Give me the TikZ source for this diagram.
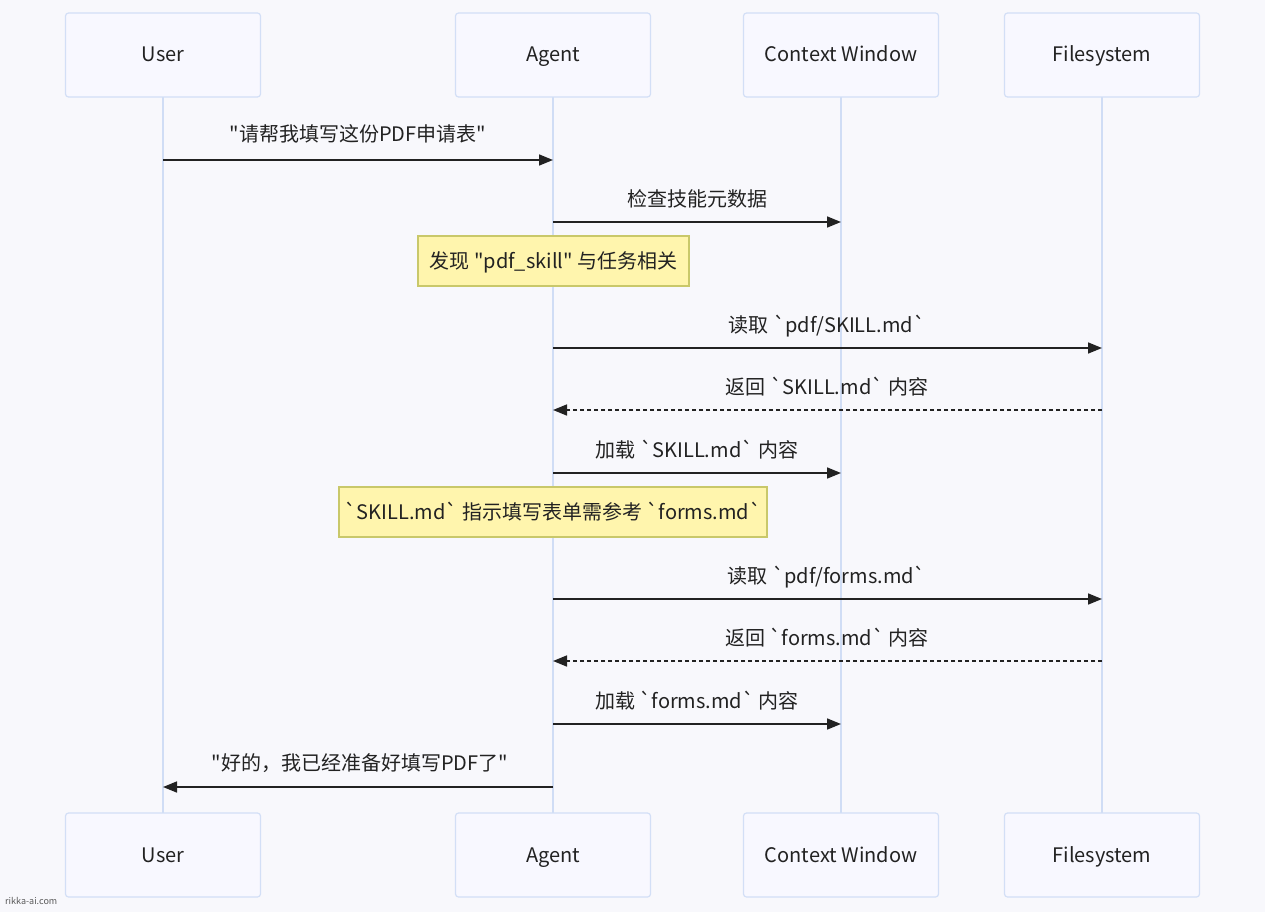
\documentclass[tikz,border=0pt]{standalone}
\usepackage{fontspec}
\setmainfont{Noto Sans CJK SC}[Ligatures=TeXOff]
\usetikzlibrary{arrows.meta}
\definecolor{bg}{HTML}{F8F8FC}
\definecolor{actfill}{HTML}{F8F8FF}
\definecolor{actline}{HTML}{D3DFF6}
\definecolor{lifeline}{HTML}{D0DDF5}
\definecolor{notefill}{HTML}{FFF5AD}
\definecolor{noteline}{HTML}{C9C86A}
\definecolor{ink}{HTML}{222222}
\tikzset{
  txt/.style={font=\fontsize{20}{22}\selectfont, text=ink, text height=16pt, text depth=2pt},
  actor/.style={txt, draw=actline, fill=actfill, line width=1.2pt, rounded corners=3pt,
    minimum width=195pt, minimum height=84pt, inner sep=0pt},
  life/.style={draw=lifeline, line width=2pt},
  msg/.style={draw=ink, line width=1.6pt, -{Triangle[length=14pt,width=11pt]}},
  reply/.style={msg, dash pattern=on 4pt off 3pt},
  lbl/.style={txt, inner sep=0pt},
  note/.style={txt, draw=noteline, fill=notefill, line width=1.2pt, inner sep=0pt,
    minimum height=50pt},
}
\begin{document}
\begin{tikzpicture}[x=1pt,y=-1pt]
\fill[bg] (0,0) rectangle (1265,912);
\useasboundingbox (0,0) rectangle (1265,912);
% lifelines
\foreach \n/\x in {u/163,a/553,c/841,f/1102}{
  \coordinate (\n top) at (\x,97);
  \coordinate (\n bot) at (\x,813);
  \draw[life] (\n top) -- (\n bot);
}
% actors
\node[actor] (userT) at (163,55) {User};
\node[actor] (agentT) at (553,55) {Agent};
\node[actor] (ctxT) at (841,55) {Context Window};
\node[actor] (fsT) at (1102,55) {Filesystem};
\node[actor] (userB) at (163,855) {User};
\node[actor] (agentB) at (553,855) {Agent};
\node[actor] (ctxB) at (841,855) {Context Window};
\node[actor] (fsB) at (1102,855) {Filesystem};
% message anchor coordinates
\foreach \y/\i in {160/1,222/2,348/4,410/5,473/6,599/8,661/9,724/10,787/11}{
  \coordinate (u\i) at (163,\y);
  \coordinate (a\i) at (553,\y);
  \coordinate (c\i) at (841,\y);
  \coordinate (f\i) at (1102,\y);
}
\draw[msg] (u1) -- (a1);
\node[lbl] (l1) at (358,135) {"请帮我填写这份PDF申请表"};
\draw[msg] (a2) -- (c2);
\node[lbl] (l2) at (697,199) {检查技能元数据};
\node[note, minimum width=271pt] (n1) at (553.5,261) {发现 "pdf\_skill" 与任务相关};
\draw[msg] (a4) -- (f4);
\node[lbl] (l4) at (827,325) {读取 `pdf/SKILL.md`};
\draw[reply] (f5) -- (a5);
\node[lbl] (l5) at (827,387) {返回 `SKILL.md` 内容};
\draw[msg] (a6) -- (c6);
\node[lbl] (l6) at (697,450) {加载 `SKILL.md` 内容};
\node[note, minimum width=428pt] (n2) at (553,512) {`SKILL.md` 指示填写表单需参考 `forms.md`};
\draw[msg] (a8) -- (f8);
\node[lbl] (l8) at (827,576) {读取 `pdf/forms.md`};
\draw[reply] (f9) -- (a9);
\node[lbl] (l9) at (827,638) {返回 `forms.md` 内容};
\draw[msg] (a10) -- (c10);
\node[lbl] (l10) at (697,701) {加载 `forms.md` 内容};
\draw[msg] (a11) -- (u11);
\node[lbl] (l11) at (360,763) {"好的，我已经准备好填写PDF了"};
\node[anchor=west, inner sep=0pt, font=\fontsize{9}{10}\selectfont, text=black!65] (wm) at (5,901) {rikka-ai.com};
\end{tikzpicture}
\end{document}
